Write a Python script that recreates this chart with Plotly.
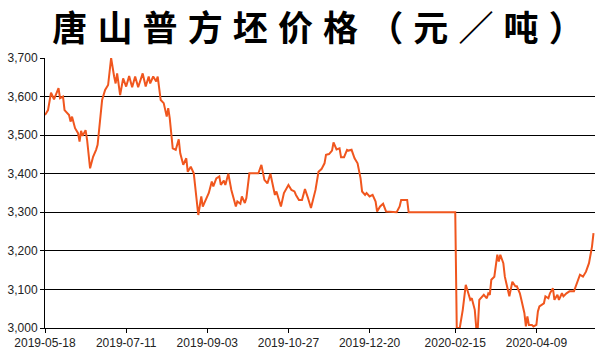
import pandas as pd
import plotly.graph_objects as go

start_date = "2019-05-18"
# days after 2019-05-18
day = [0, 2, 4, 6, 9, 10, 12, 13, 16, 17, 18, 20, 22, 23, 24, 25, 27, 28, 30, 32,
       34, 35, 38, 40, 42, 44, 46, 47, 48, 50, 52, 54, 56, 58, 60, 62, 65, 67, 69, 70,
       72, 74, 75, 77, 79, 81, 82, 83, 85, 87, 89, 90, 92, 94, 95, 97, 99, 102, 104, 105,
       106, 109, 111, 112, 114, 116, 117, 119, 120, 122, 124, 127, 128, 130, 131, 133, 134, 136, 142, 144,
       146, 148, 150, 151, 153, 154, 156, 157, 159, 162, 164, 166, 167, 169, 171, 173, 175, 177, 180, 182,
       184, 186, 187, 189, 191, 192, 194, 196, 197, 199, 201, 202, 204, 205, 206, 208, 210, 211, 213, 214,
       216, 218, 220, 221, 223, 225, 227, 234, 236, 237, 241, 242, 272, 273, 274, 276, 278, 280, 282, 283,
       284, 286, 287, 288, 289, 291, 292, 294, 295, 296, 297, 299, 300, 301, 302, 303, 305, 306, 307, 309,
       311, 313, 314, 316, 317, 319, 320, 321, 322, 324, 325, 327, 328, 329, 332, 333, 335, 336, 338, 339,
       341, 342, 344, 345, 347, 349, 352, 354, 356, 358, 360, 362, 364, 365]
price = [3552, 3565, 3610, 3593, 3622, 3596, 3600, 3565, 3552, 3535, 3548, 3518, 3505, 3483, 3511, 3498, 3513, 3488, 3414, 3444,
         3462, 3475, 3591, 3617, 3630, 3700, 3652, 3634, 3660, 3604, 3647, 3626, 3653, 3624, 3652, 3624, 3660, 3626, 3652, 3634,
         3652, 3639, 3652, 3591, 3583, 3548, 3570, 3544, 3466, 3462, 3489, 3453, 3423, 3440, 3405, 3418, 3401, 3293, 3341, 3315,
         3324, 3350, 3380, 3367, 3388, 3393, 3371, 3382, 3371, 3400, 3358, 3315, 3328, 3322, 3341, 3324, 3337, 3401, 3401, 3423,
         3384, 3375, 3400, 3380, 3345, 3354, 3324, 3315, 3350, 3371, 3358, 3354, 3345, 3332, 3332, 3360, 3337, 3311, 3358, 3405,
         3412, 3427, 3449, 3451, 3460, 3481, 3463, 3466, 3443, 3443, 3462, 3460, 3462, 3449, 3440, 3427, 3388, 3354, 3345, 3350,
         3341, 3345, 3328, 3302, 3315, 3322, 3302, 3300, 3315, 3332, 3332, 3300, 3300, 3300, 3000, 3000, 3047, 3112, 3086, 3073,
         3077, 3047, 3000, 3000, 3073, 3082, 3086, 3077, 3090, 3086, 3125, 3133, 3159, 3190, 3172, 3190, 3168, 3133, 3116, 3082,
         3120, 3108, 3108, 3090, 3073, 3039, 3004, 3030, 3008, 3008, 3004, 3008, 3043, 3056, 3064, 3082, 3077, 3090, 3103, 3073,
         3086, 3073, 3090, 3082, 3090, 3095, 3095, 3116, 3138, 3133, 3146, 3168, 3211, 3246]

x_ticks = ["2019-05-18", "2019-07-11", "2019-09-03", "2019-10-27", "2019-12-20", "2020-02-15", "2020-04-09"]
y_ticks = [3000, 3100, 3200, 3300, 3400, 3500, 3600, 3700]
title = "唐山普方坯价格（元／吨）"

dates = pd.Timestamp(start_date) + pd.to_timedelta(day, unit="D")

fig = go.Figure()
fig.add_trace(go.Scatter(
    x=dates, y=price, mode="lines",
    line=dict(color="#f0561e", width=2),
    showlegend=False, hoverinfo="x+y",
))

fig.update_layout(
    width=600, height=360,
    margin=dict(l=45, r=5, t=58, b=32),
    paper_bgcolor="white", plot_bgcolor="white",
    title=dict(text="<b>" + " \u200a".join(title) + "</b>", x=0.53, xanchor="center",
               yref="container", y=0.92, yanchor="middle",
               font=dict(family="Noto Sans CJK SC", size=35, color="black")),
    xaxis=dict(
        type="date",
        range=[pd.Timestamp(start_date), pd.Timestamp(start_date) + pd.Timedelta(days=366)],
        tickvals=x_ticks, ticktext=x_ticks,
        showgrid=False, showline=True, linecolor="black", linewidth=1,
        ticks="outside", ticklen=4, tickcolor="black",
        tickfont=dict(family="Liberation Sans", size=12, color="#222"),
        zeroline=False,
    ),
    yaxis=dict(
        range=[3000, 3700],
        tickvals=y_ticks, tickformat=",",
        showgrid=True, gridcolor="black", gridwidth=1,
        showline=True, linecolor="black", linewidth=1,
        ticks="outside", ticklen=4, tickcolor="black",
        tickfont=dict(family="Liberation Sans", size=12, color="#222"),
        zeroline=False,
    ),
)

fig.write_html("out.html")
